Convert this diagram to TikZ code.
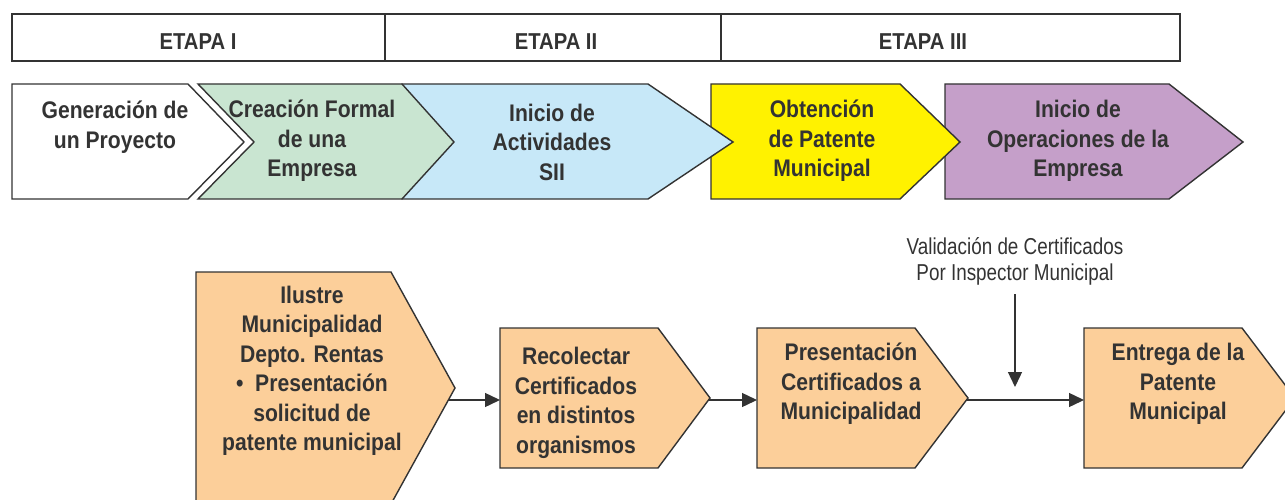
\documentclass[tikz,border=0pt]{standalone}
\usepackage{fontspec}
\setmainfont{Liberation Sans}
\newfontfamily\boxsans[FakeStretch=0.88]{Liberation Sans}
\newfontfamily\narrowsans[FakeStretch=0.82]{Liberation Sans}
\usetikzlibrary{arrows.meta}
\definecolor{ink}{HTML}{333333}
\definecolor{crea}{HTML}{C9E5D1}
\definecolor{sii}{HTML}{C7E8F8}
\definecolor{patente}{HTML}{FFF200}
\definecolor{operac}{HTML}{C59FC9}
\definecolor{tramite}{HTML}{FCCF9A}
\tikzset{
  chev/.style={draw=ink, line width=1.4pt, line join=miter},
  etapa/.style={text=ink, font=\boxsans\bfseries\fontsize{23}{27}\selectfont},
  lbl/.style={text=ink, font=\boxsans\bfseries\fontsize{24}{29.5}\selectfont, align=center},
  nota/.style={text=ink, font=\narrowsans\fontsize{23}{26}\selectfont, align=center},
  arr/.style={draw=ink, line width=1.4pt, -{Triangle[length=15pt,width=14pt]}},
}
\begin{document}
\begin{tikzpicture}[x=1pt,y=-1pt]
  \useasboundingbox (0,0) rectangle (1285,500);
  \clip (0,0) rectangle (1285,500);
  % etapas
  \draw[chev] (12,14) rectangle (1180,61);
  \draw[chev] (385,14) -- (385,61) (721,14) -- (721,61);
  \node[etapa] (etapaI) at (198,42) {ETAPA I};
  \node[etapa] (etapaII) at (556,42) {ETAPA II};
  \node[etapa] (etapaIII) at (923,42) {ETAPA III};
  % flechas de proceso, de atras hacia adelante
  \draw[chev,fill=operac] (945,84) -- (1169,84) -- (1243,142) -- (1169,199) -- (945,199) -- cycle;
  \draw[chev,fill=patente] (711,84) -- (900,84) -- (960,142) -- (900,199) -- (711,199) -- cycle;
  \draw[chev,fill=sii] (402,84) -- (648,84) -- (733,142) -- (648,199) -- (402,199) -- cycle;
  \draw[chev,fill=crea] (198,84) -- (402,84) -- (454,142) -- (402,199) -- (198,199) -- (254,142) -- cycle;
  \draw[chev,fill=white] (12,84) -- (188,84) -- (244,142) -- (188,199) -- (12,199) -- cycle;
  \node[lbl] (generacion) at (115,127) {Generación de\\un Proyecto};
  \node[lbl] (creacion) at (312,141) {Creación Formal\\de una\\Empresa};
  \node[lbl] (inicio) at (552,142) {Inicio de\\Actividades\\SII};
  \node[lbl] (obtencion) at (822,141) {Obtención\\de Patente\\Municipal};
  \node[lbl] (operaciones) at (1078,141) {Inicio de\\Operaciones de la\\Empresa};
  % tramite de la patente
  \draw[chev,fill=tramite] (196,272) -- (391,272) -- (455,388) -- (391,504) -- (196,504) -- cycle;
  \draw[chev,fill=tramite] (500,328) -- (658,328) -- (710,398) -- (658,468) -- (500,468) -- cycle;
  \draw[chev,fill=tramite] (757,328) -- (915,328) -- (968,398) -- (915,468) -- (757,468) -- cycle;
  \draw[chev,fill=tramite] (1084,328) -- (1242,328) -- (1295,398) -- (1242,468) -- (1084,468) -- cycle;
  \node[lbl] (municipalidad) at (312,371) {Ilustre\\Municipalidad\\Depto. Rentas\\\textbullet{} \ Presentación\\solicitud de\\patente municipal};
  \node[lbl] (recolectar) at (576,403) {Recolectar\\Certificados\\en distintos\\organismos};
  \node[lbl] (presentacion) at (851,384) {Presentación\\Certificados a\\Municipalidad};
  \node[lbl] (entrega) at (1178,384) {Entrega de la\\Patente\\Municipal};
  \node[nota] (validacion) at (1015,261) {Validación de Certificados\\Por Inspector Municipal};
  \coordinate (municipalidad-out) at (448,400);
  \coordinate (recolectar-in) at (500,400);
  \coordinate (recolectar-out) at (709,400);
  \coordinate (presentacion-in) at (757,400);
  \coordinate (presentacion-out) at (967,400);
  \coordinate (entrega-in) at (1084,400);
  \coordinate (validacion-fin) at (1015,387);
  \draw[arr] (municipalidad-out) -- (recolectar-in);
  \draw[arr] (recolectar-out) -- (presentacion-in);
  \draw[arr] (presentacion-out) -- (entrega-in);
  \draw[arr] (validacion.south |- 0,294) -- (validacion-fin);
\end{tikzpicture}
\end{document}
